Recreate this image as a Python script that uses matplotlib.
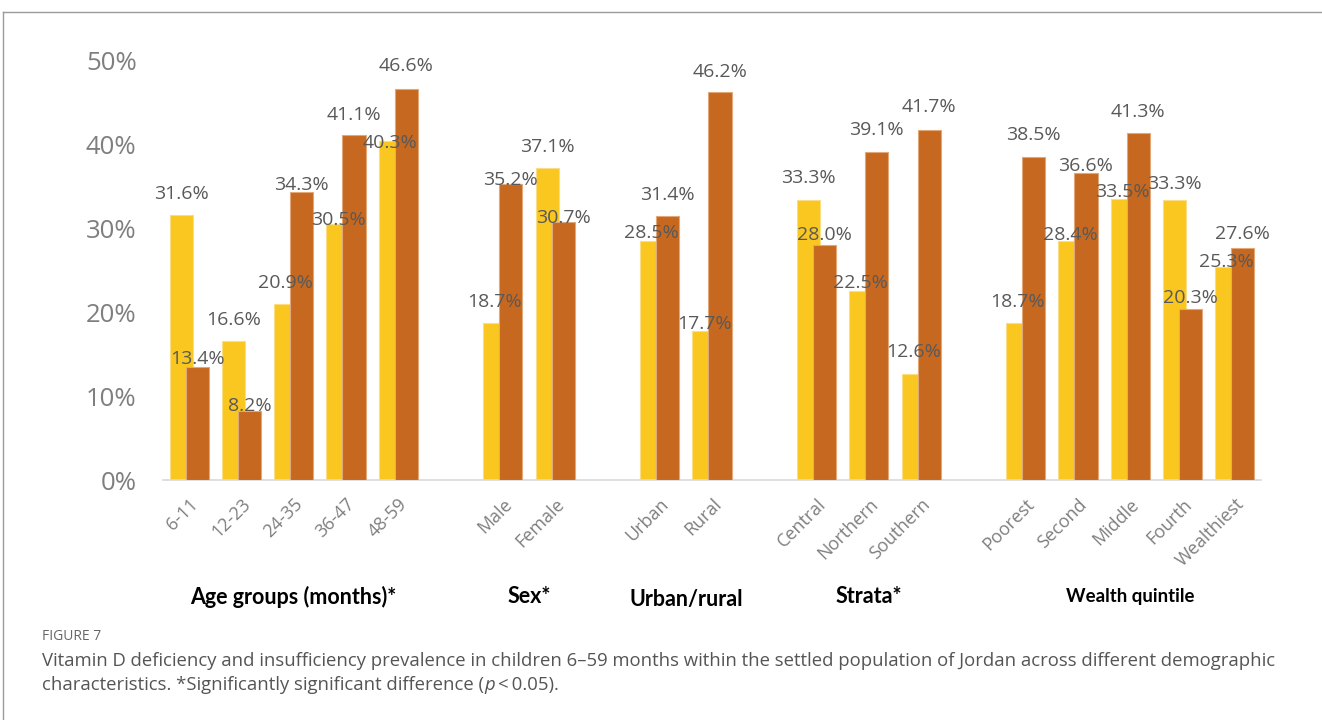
import numpy as np
import matplotlib
matplotlib.use("Agg")
import matplotlib.pyplot as plt
from matplotlib.lines import Line2D

# groups and their categories
groups = ["Age groups (months)*", "Sex*", "Urban/rural", "Strata*", "Wealth quintile"]
categories = [
    ["6-11", "12-23", "24-35", "36-47", "48-59"],
    ["Male", "Female"],
    ["Urban", "Rural"],
    ["Central", "Northern", "Southern"],
    ["Poorest", "Second", "Middle", "Fourth", "Wealthiest"],
]
series1 = [
    [31.6, 16.6, 20.9, 30.5, 40.3],
    [18.7, 37.1],
    [28.5, 17.7],
    [33.3, 22.5, 12.6],
    [18.7, 28.4, 33.5, 33.3, 25.3],
]
series2 = [
    [13.4, 8.2, 34.3, 41.1, 46.6],
    [35.2, 30.7],
    [31.4, 46.2],
    [28.0, 39.1, 41.7],
    [38.5, 36.6, 41.3, 20.3, 27.6],
]

# hand-placed label offsets above bar tops (percentage points), as in the original
gap1 = [[2.4, 2.4, 2.6, 0.5, -0.2], [2.5, 2.5], [0.9, 0.9], [2.7, 0.9, 2.6],
        [2.5, 0.8, 0.8, 1.9, 0.7]]
gap2 = [[1.0, 0.6, 0.8, 2.4, 2.7], [0.5, 0.5], [2.5, 2.4], [1.2, 2.6, 2.7],
        [2.6, 0.8, 2.5, 1.4, 1.7]]

col1 = "#F9C71F"
col2 = "#C6681F"
label_grey = "#595959"
tick_grey = "#7F7F7F"

fig = plt.figure(figsize=(13.22, 7.2), dpi=100)
ax = fig.add_axes([163 / 1322, 1 - 480 / 720, 1098 / 1322, 420 / 720])

xs, names, v1, v2, g1, g2, centers = [], [], [], [], [], [], []
pos = 0
for gi, cats in enumerate(categories):
    start = pos
    for ci, c in enumerate(cats):
        xs.append(pos)
        names.append(c)
        v1.append(series1[gi][ci])
        v2.append(series2[gi][ci])
        g1.append(gap1[gi][ci])
        g2.append(gap2[gi][ci])
        pos += 1
    centers.append((start + pos - 1) / 2)
    pos += 1  # empty slot between groups

xs = np.array(xs)
w = 0.44
off = 0.153
ax.bar(xs - off, v1, width=w, color=col1, edgecolor="#FBDD85", linewidth=0.8, zorder=2)
ax.bar(xs + off, v2, width=w, color=col2, edgecolor="#E2A878", linewidth=0.8, zorder=3)

lab_font = dict(family="Open Sans", fontsize=14, color=label_grey, ha="center", va="center", zorder=5)
for x, a, b, ga, gb in zip(xs, v1, v2, g1, g2):
    ax.text(x - off, a + ga, f"{a:.1f}%", **lab_font)
    ax.text(x + off, b + gb, f"{b:.1f}%", **lab_font)

ax.set_xlim(-0.5, pos - 1.5)
ax.set_ylim(0, 50)
ax.set_yticks(np.arange(0, 51, 10))
ax.set_yticklabels([f"{t}%" for t in range(0, 51, 10)], family="Open Sans",
                   fontsize=18.5, color=tick_grey)
ax.tick_params(axis="y", length=0, pad=19)

ax.set_xticks(xs)
ax.set_xticklabels(names, rotation=45, ha="right", va="top", rotation_mode="anchor",
                   family="Open Sans", fontsize=13, color=tick_grey)
ax.tick_params(axis="x", length=0, pad=11)

for s in ["top", "right", "left"]:
    ax.spines[s].set_visible(False)
ax.spines["bottom"].set_color("#D9D9D9")
ax.spines["bottom"].set_linewidth(1.2)

for g, cx in zip(groups, centers):
    fs = 13.4 if g == "Wealth quintile" else 15.5
    ax.text(cx, -13.9 if g != "Urban/rural" else -14.2, g, ha="center", va="center",
            family="Lato", fontweight="bold", fontsize=fs, color="black")

# caption
fig.text(42 / 1322, 1 - 636 / 720, "FIGURE 7", family="Open Sans", fontsize=10,
         color="#666666", va="center")
cap_kw = dict(family="Open Sans", fontsize=13.35, color="#555555", va="center")
fig.text(42 / 1322, 1 - 661 / 720,
         "Vitamin D deficiency and insufficiency prevalence in children 6\u201359 months within the "
         "settled population of Jordan across different demographic", **cap_kw)

fig.canvas.draw()
r = fig.canvas.get_renderer()
x0 = 42 / 1322
y2 = 1 - 685 / 720
parts = [("characteristics. *Significantly significant difference (", "normal"),
         ("p", "italic"), ("\u2009<\u20090.05).", "normal")]
for txt, st in parts:
    t = fig.text(x0, y2, txt, style=st, **cap_kw)
    bb = t.get_window_extent(renderer=r)
    x0 += bb.width / fig.bbox.width

# frame lines
fig.add_artist(Line2D([3 / 1322, 1], [1 - 12 / 720, 1 - 12 / 720], color="#9A9A9A", lw=1))
fig.add_artist(Line2D([3 / 1322, 3 / 1322], [0, 1 - 12 / 720], color="#9A9A9A", lw=1))

fig.savefig("out.png", dpi=100)
